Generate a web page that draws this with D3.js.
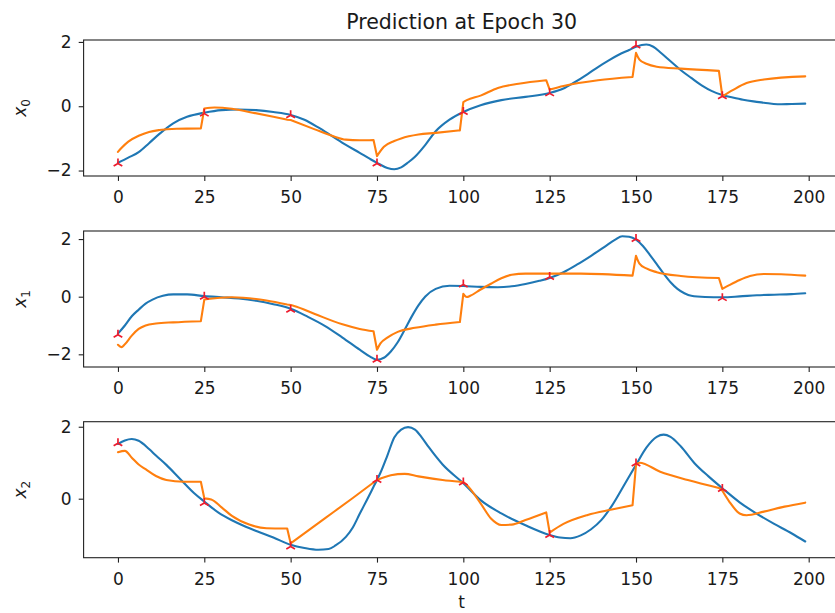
<!DOCTYPE html>
<html>
<head>
<meta charset="utf-8">
<script src="https://cdn.jsdelivr.net/npm/d3@7"></script>
<style>
  html, body { margin: 0; padding: 0; background: #fff; }
  svg { display: block; }
  text { font-family: "DejaVu Sans", sans-serif; fill: #1a1a1a; }
</style>
</head>
<body>
<svg id="chart" width="835" height="613"></svg>
<script>
// ---- data -------------------------------------------------------------
const titleText = "Prediction at Epoch 30";
const xLabel = "t";
const xTicks = [0, 25, 50, 75, 100, 125, 150, 175, 200];
const yTicks0 = [-2, 0, 2];
const yTicks1 = [-2, 0, 2];
const yTicks2 = [0, 2];
const obsTimes = [0, 25, 50, 75, 100, 125, 150, 175];

// true trajectory, state x0  [t, value]
const trueX0 = [[0,-1.76],[3,-1.6],[6,-1.43],[9,-1.15],[12,-0.86],[16,-0.53],[20,-0.33],[25,-0.2],
  [30,-0.12],[35,-0.1],[40,-0.12],[45,-0.18],[50,-0.27],[54,-0.42],[58,-0.66],[62,-0.93],[66,-1.2],
  [70,-1.45],[73,-1.64],[75,-1.76],[78,-1.92],[80,-1.96],[82,-1.9],[84,-1.75],[86,-1.57],[89,-1.2],
  [92,-0.78],[96,-0.42],[100,-0.18],[105,0.03],[111,0.19],[118,0.29],[125,0.41],[129,0.55],[132,0.73],
  [136,1.0],[139,1.22],[142,1.42],[145,1.6],[148,1.75],[150,1.85],[153,1.92],[155,1.85],[157,1.68],
  [160,1.4],[163,1.12],[166,0.88],[169,0.65],[172,0.47],[175,0.35],[178,0.27],[181,0.2],[184,0.15],
  [187,0.11],[191,0.06],[195,0.07],[199,0.08]];
// model prediction, state x0 (restarted at every observation)
const predX0 = [[0,-1.42],[1,-1.3],[3,-1.1],[6,-0.92],[9,-0.8],[12,-0.74],[17,-0.7],[24,-0.69],
  [25,-0.07],[28,-0.04],[33,-0.08],[39,-0.2],[45,-0.33],[49,-0.42],
  [50,-0.43],[57,-0.72],[62,-0.92],[66,-1.04],[70,-1.06],[74,-1.05],
  [75,-1.55],[77,-1.26],[80,-1.08],[82,-1.0],[87,-0.88],[92,-0.83],[99,-0.75],
  [100,0.13],[101,0.19],[105,0.33],[110,0.57],[116,0.7],[124,0.81],
  [125,0.52],[129,0.63],[139,0.81],[149,0.91],
  [150,1.66],[151,1.45],[153,1.32],[156,1.23],[163,1.17],[174,1.1],
  [175,0.31],[178,0.5],[182,0.72],[187,0.83],[199,0.93]];
const obsX0 = [-1.78, -0.23, -0.28, -1.78, -0.18, 0.40, 1.89, 0.31];

// state x1
const trueX1 = [[0,-1.28],[2,-1.0],[4,-0.68],[6,-0.45],[8,-0.24],[10,-0.1],[13,0.03],[16,0.08],[20,0.08],
  [25,0.02],[30,-0.02],[35,-0.06],[40,-0.14],[45,-0.26],[50,-0.42],[55,-0.7],[60,-1.02],[65,-1.42],
  [70,-1.84],[73,-2.08],[75,-2.19],[77,-2.12],[79,-1.9],[81,-1.58],[83,-1.15],[85,-0.7],[87,-0.3],
  [89,0.01],[92,0.27],[96,0.38],[100,0.37],[105,0.34],[110,0.33],[114,0.36],[118,0.44],[122,0.55],
  [125,0.65],[129,0.85],[133,1.12],[137,1.42],[141,1.74],[144,1.98],[146,2.1],[148,2.08],[150,1.98],
  [152,1.76],[154,1.45],[156,1.13],[158,0.8],[160,0.5],[162,0.27],[164,0.12],[166,0.03],[170,-0.01],
  [175,-0.02],[180,0.01],[185,0.05],[190,0.07],[195,0.09],[199,0.12]];
const predX1 = [[0,-1.67],[1,-1.75],[2,-1.65],[4,-1.35],[6,-1.12],[8,-1.0],[11,-0.93],[16,-0.89],[24,-0.85],
  [25,-0.1],[26,-0.08],[33,-0.02],[43,-0.13],[49,-0.27],
  [50,-0.29],[51,-0.32],[57,-0.6],[65,-0.96],[70,-1.12],[74,-1.2],
  [75,-1.84],[76,-1.62],[78,-1.42],[81,-1.22],[86,-1.08],[92,-0.97],[99,-0.88],
  [100,0.1],[101,-0.01],[102,0.03],[105,0.25],[108,0.45],[111,0.64],[114,0.76],[118,0.8],[124,0.8],
  [125,0.8],[134,0.8],[149,0.73],
  [150,1.42],[151,1.15],[153,0.98],[156,0.85],[163,0.72],[174,0.65],
  [175,0.27],[177,0.4],[180,0.58],[183,0.72],[187,0.79],[192,0.78],[199,0.73]];
const obsX1 = [-1.32, 0.0, -0.45, -2.19, 0.42, 0.68, 2.0, -0.05];

// state x2
const trueX2 = [[0,1.52],[2,1.62],[4,1.66],[6,1.61],[9,1.38],[11,1.2],[14,0.94],[18,0.55],[22,0.16],
  [25,-0.08],[29,-0.38],[33,-0.6],[37,-0.78],[41,-0.93],[45,-1.08],[50,-1.28],[54,-1.37],[58,-1.42],
  [61,-1.4],[63,-1.3],[66,-1.06],[68,-0.8],[70,-0.42],[72,-0.05],[74,0.33],[75,0.52],[76,0.72],
  [78,1.2],[80,1.7],[82,1.92],[84,1.99],[86,1.92],[88,1.7],[90,1.43],[94,0.95],[100,0.43],[105,-0.04],
  [111,-0.41],[118,-0.74],[125,-1.01],[128,-1.08],[131,-1.1],[134,-1.02],[137,-0.85],[140,-0.59],
  [143,-0.2],[147,0.45],[150,0.94],[153,1.42],[156,1.72],[158,1.78],[160,1.72],[163,1.45],[167,0.98],
  [171,0.62],[175,0.29],[180,-0.1],[185,-0.42],[190,-0.7],[195,-0.96],[199,-1.19]];
const predX2 = [[0,1.29],[2,1.33],[4,1.14],[6,0.95],[8,0.82],[11,0.63],[14,0.52],[19,0.47],[24,0.47],
  [25,0.01],[27,-0.02],[30,-0.24],[33,-0.48],[38,-0.72],[43,-0.82],[49,-0.83],
  [50,-1.24],[60,-0.54],[68,0.02],[74,0.45],
  [75,0.52],[79,0.65],[83,0.69],[87,0.62],[94,0.52],[99,0.47],
  [100,0.46],[101,0.38],[105,-0.13],[108,-0.55],[111,-0.73],[114,-0.72],[118,-0.59],[124,-0.38],
  [125,-0.94],[129,-0.7],[136,-0.45],[143,-0.3],[149,-0.18],
  [150,0.94],[151,1.0],[157,0.75],[165,0.52],[174,0.3],
  [175,0.22],[177,-0.08],[180,-0.41],[182,-0.46],[187,-0.36],[193,-0.22],[199,-0.11]];
const obsX2 = [1.54, -0.12, -1.33, 0.52, 0.45, -1.01, 0.98, 0.27];

// ---- layout -----------------------------------------------------------
const svg = d3.select("#chart");
const left = 83.6, right = 839.6;
const horizon = 25;   // steps between observations
const x = d3.scaleLinear().domain([-9.95, 208.95]).range([left, right]);

const panels = [
  { sub: "0", top: 40,    bottom: 176,   domain: [-2.17, 2.06], ticks: yTicks0, truth: trueX0, pred: predX0, obs: obsX0 },
  { sub: "1", top: 231,   bottom: 367,   domain: [-2.44, 2.28], ticks: yTicks1, truth: trueX1, pred: predX1, obs: obsX1 },
  { sub: "2", top: 421.7, bottom: 557.7, domain: [-1.64, 2.14], ticks: yTicks2, truth: trueX2, pred: predX2, obs: obsX2 }
];

const blue = "#1f77b4", orange = "#ff7f0e";
const fmt = d3.format("d");

panels.forEach(p => {
  const y = d3.scaleLinear().domain(p.domain).range([p.bottom, p.top]);
  const g = svg.append("g");

  const clipId = "clip" + p.sub;
  svg.append("clipPath").attr("id", clipId).append("rect")
    .attr("x", left).attr("y", p.top).attr("width", right - left).attr("height", p.bottom - p.top);

  const line = d3.line().x(d => x(d[0])).y(d => y(d[1])).curve(d3.curveMonotoneX);
  const plot = g.append("g").attr("clip-path", `url(#${clipId})`);

  plot.append("path").attr("d", line(p.truth))
    .attr("fill", "none").attr("stroke", blue).attr("stroke-width", 2.1)
    .attr("stroke-linejoin", "round").attr("stroke-linecap", "round");

  // prediction: smooth inside each horizon, straight jump between horizons
  const segs = d3.groups(p.pred, d => Math.floor(d[0] / horizon)).map(s => s[1]);
  const predPath = segs.map((s, i) => {
    const d = line(s);
    return i === 0 ? d : "L" + d.slice(1);
  }).join("");
  plot.append("path").attr("d", predPath)
    .attr("fill", "none").attr("stroke", orange).attr("stroke-width", 2.1)
    .attr("stroke-linejoin", "round").attr("stroke-linecap", "round");

  // observation markers (tri_up)
  const r = 5;
  const tri = `M0,0L0,${-r}M0,0L${-0.866 * r},${0.5 * r}M0,0L${0.866 * r},${0.5 * r}`;
  plot.selectAll("path.obs").data(p.obs).join("path")
    .attr("class", "obs")
    .attr("transform", (d, i) => `translate(${x(obsTimes[i])},${y(d)})`)
    .attr("d", tri)
    .attr("fill", "none").attr("stroke", "#ee1c2e").attr("stroke-width", 1.7);

  // axes
  const xa = g.append("g").attr("transform", `translate(0,${p.bottom})`)
    .call(d3.axisBottom(x).tickValues(xTicks).tickFormat(fmt).tickSize(4.9).tickSizeOuter(0).tickPadding(10));
  const ya = g.append("g").attr("transform", `translate(${left},0)`)
    .call(d3.axisLeft(y).tickValues(p.ticks).tickFormat(fmt).tickSize(4.9).tickSizeOuter(0).tickPadding(7.2));
  [xa, ya].forEach(a => {
    a.select(".domain").remove();
    a.selectAll("line").attr("stroke", "#222").attr("stroke-width", 1.1);
    a.selectAll("text").attr("font-size", "17px").attr("font-family", "DejaVu Sans").attr("fill", "#1a1a1a");
  });

  // frame
  g.append("rect").attr("x", left).attr("y", p.top)
    .attr("width", right - left).attr("height", p.bottom - p.top)
    .attr("fill", "none").attr("stroke", "#222").attr("stroke-width", 1.1);

  // y label x_i
  const lab = g.append("text")
    .attr("transform", `translate(25.5,${(p.top + p.bottom) / 2}) rotate(-90)`)
    .attr("text-anchor", "middle").attr("font-size", "17px");
  lab.append("tspan").attr("font-style", "italic").text("x");
  lab.append("tspan").attr("font-size", "12px").attr("dy", "4").text(p.sub);
});

svg.append("text").attr("x", (left + right) / 2).attr("y", 29)
  .attr("text-anchor", "middle").attr("font-size", "20.5px").text(titleText);
svg.append("text").attr("x", (left + right) / 2).attr("y", 608)
  .attr("text-anchor", "middle").attr("font-size", "17px").text(xLabel);
</script>
</body>
</html>
